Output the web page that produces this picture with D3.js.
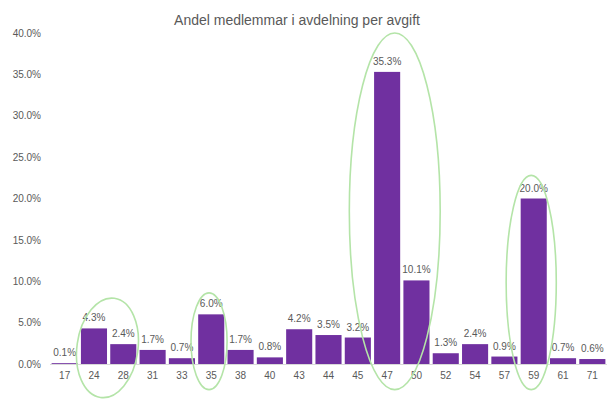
<!DOCTYPE html>
<html>
<head>
<meta charset="utf-8">
<script src="https://cdn.jsdelivr.net/npm/d3@7"></script>
<style>
  html, body { margin: 0; padding: 0; background: #fff; }
  svg { display: block; font-family: "Liberation Sans", Arial, sans-serif; }
</style>
</head>
<body>
<svg id="chart" width="607" height="400"></svg>
<script>
const title = "Andel medlemmar i avdelning per avgift";
const categories = ["17","24","28","31","33","35","38","40","43","44","45","47","50","52","54","57","59","61","71"];
const values = [0.1, 4.3, 2.4, 1.7, 0.7, 6.0, 1.7, 0.8, 4.2, 3.5, 3.2, 35.3, 10.1, 1.3, 2.4, 0.9, 20.0, 0.7, 0.6];
const yTicks = [0, 5, 10, 15, 20, 25, 30, 35, 40];
// hand-drawn highlight ellipses: band-index span and value span
const ringFrom = [0.42, 4.31, 9.71, 15.06];
const ringTo   = [2.50, 5.54, 12.81, 16.77];
const ringTop  = [8.0, 8.6, 40.0, 22.8];
const ringBot  = [-4.1, -3.1, -3.1, -3.1];
const ringTilt = [-8, 0, 0, 0];

const svg = d3.select("#chart");
const margin = {left: 50, right: 0, top: 33, bottom: 36};
const W = 607, H = 400;

const x = d3.scaleBand().domain(categories).range([margin.left, W - margin.right]).paddingInner(0.11).paddingOuter(0.055);
const y = d3.scaleLinear().domain([0, 40]).range([H - margin.bottom, margin.top]);
const idx = d3.scaleLinear().domain([0, 1]).range([x(categories[0]) + x.bandwidth()/2, x(categories[1]) + x.bandwidth()/2]);

const textCol = "#595959";

svg.append("text")
  .attr("x", 297).attr("y", 25)
  .attr("text-anchor", "middle")
  .attr("font-size", 14)
  .attr("fill", textCol)
  .text(title);

// y axis labels
const yAxis = d3.axisLeft(y).tickValues(yTicks).tickSize(0).tickPadding(0).tickFormat(d => d.toFixed(1) + "%");
const gy = svg.append("g").attr("transform", `translate(41,0)`).call(yAxis);
gy.select(".domain").remove();
gy.selectAll("text").attr("font-size", 10).attr("fill", textCol).attr("font-family", "Liberation Sans, Arial, sans-serif");

// baseline
svg.append("line")
  .attr("x1", margin.left).attr("x2", W)
  .attr("y1", y(0) + 0.5).attr("y2", y(0) + 0.5)
  .attr("stroke", "#d9d9d9").attr("stroke-width", 1);

// bars
svg.append("g").selectAll("rect").data(values).join("rect")
  .attr("x", (d, i) => x(categories[i]))
  .attr("width", x.bandwidth())
  .attr("y", d => y(d))
  .attr("height", d => y(0) - y(d))
  .attr("fill", "#7030A0");

// value labels
svg.append("g").selectAll("text").data(values).join("text")
  .attr("x", (d, i) => x(categories[i]) + x.bandwidth()/2)
  .attr("y", d => y(d) - 7)
  .attr("text-anchor", "middle")
  .attr("font-size", 10)
  .attr("fill", textCol)
  .text(d => d.toFixed(1) + "%");

// x axis labels
const xAxis = d3.axisBottom(x).tickSize(0).tickPadding(0);
const gx = svg.append("g").attr("transform", `translate(0,${y(0) + 8})`).call(xAxis);
gx.select(".domain").remove();
gx.selectAll("text").attr("font-size", 10).attr("fill", textCol).attr("font-family", "Liberation Sans, Arial, sans-serif").attr("dy", "0.71em");

// highlight ellipses
svg.append("g").selectAll("ellipse").data(ringFrom).join("ellipse")
  .each(function(d, i) {
    const x0 = idx(ringFrom[i]), x1 = idx(ringTo[i]);
    const y0 = y(ringTop[i]), y1 = y(ringBot[i]);
    const cx = (x0 + x1) / 2, cy = (y0 + y1) / 2;
    d3.select(this)
      .attr("cx", 0).attr("cy", 0)
      .attr("rx", (x1 - x0) / 2).attr("ry", (y1 - y0) / 2)
      .attr("transform", `translate(${cx},${cy}) rotate(${-ringTilt[i]})`);
  })
  .attr("fill", "none")
  .attr("stroke", "#b4e4a8")
  .attr("stroke-width", 1.6);
</script>
</body>
</html>
